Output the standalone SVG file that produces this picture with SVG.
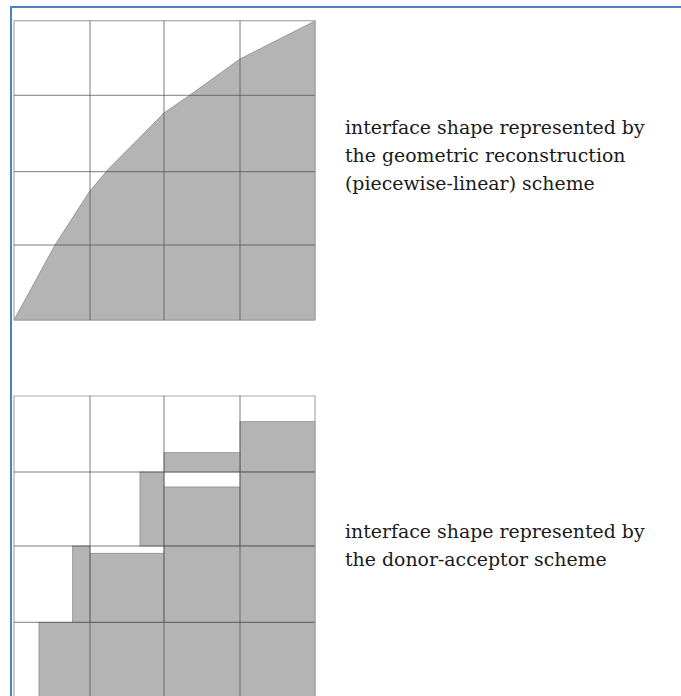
<svg xmlns="http://www.w3.org/2000/svg" width="681" height="696" viewBox="0 0 681 696">
<style>
.frame{fill:none;stroke:#4f81bd;stroke-width:2}
.fill{fill:#b4b4b4;stroke:#8a8a8a;stroke-width:0.8}
.grid{fill:none;stroke:#505050;stroke-width:1;stroke-opacity:0.75}
.outer{fill:none;stroke:#a8a8a8;stroke-width:1.2}
.lbl{font-family:"DejaVu Serif","Liberation Serif",serif;font-size:18.9px;fill:#1a1a1a}
</style>
<rect width="681" height="696" fill="#ffffff"/>
<path class="frame" d="M11,696 V7 H681"/>
<g id="panel-geometric">
  <polygon class="fill" points="14,320 55,245 89.5,191.5 107.5,170 164,113 190,95 240,59 315,21 315,320"/>
  <rect class="outer" x="14" y="20.7" width="301" height="299.3"/>
  <path class="grid" d="M90,20.7 V320 M164,20.7 V320 M240,20.7 V320 M14,95.3 H315 M14,171.7 H315 M14,245 H315"/>
</g>
<g id="label-geometric">
  <text class="lbl" x="345" y="134">interface shape represented by</text>
  <text class="lbl" x="345" y="162">the geometric reconstruction</text>
  <text class="lbl" x="345" y="190">(piecewise-linear) scheme</text>
</g>
<g id="panel-donor-acceptor">
  <rect class="fill" x="240" y="421.7" width="75" height="50.3"/>
  <rect class="fill" x="164" y="452.7" width="76" height="19.3"/>
  <rect class="fill" x="140" y="472" width="24" height="74"/>
  <rect class="fill" x="164" y="487" width="76" height="59"/>
  <rect class="fill" x="240" y="472" width="75" height="74"/>
  <rect class="fill" x="72.7" y="546" width="17.3" height="76.3"/>
  <rect class="fill" x="90" y="553.3" width="74" height="69"/>
  <rect class="fill" x="164" y="546" width="151" height="76.3"/>
  <rect class="fill" x="39" y="622.3" width="276" height="80"/>
  <path class="outer" d="M14,700 V396 H315 V700"/>
  <path class="grid" d="M90,396 V700 M164,396 V700 M240,396 V700 M14,472 H315 M14,546 H315 M14,622.3 H315"/>
</g>
<g id="label-donor-acceptor">
  <text class="lbl" x="345" y="538">interface shape represented by</text>
  <text class="lbl" x="345" y="566">the donor-acceptor scheme</text>
</g>
</svg>
